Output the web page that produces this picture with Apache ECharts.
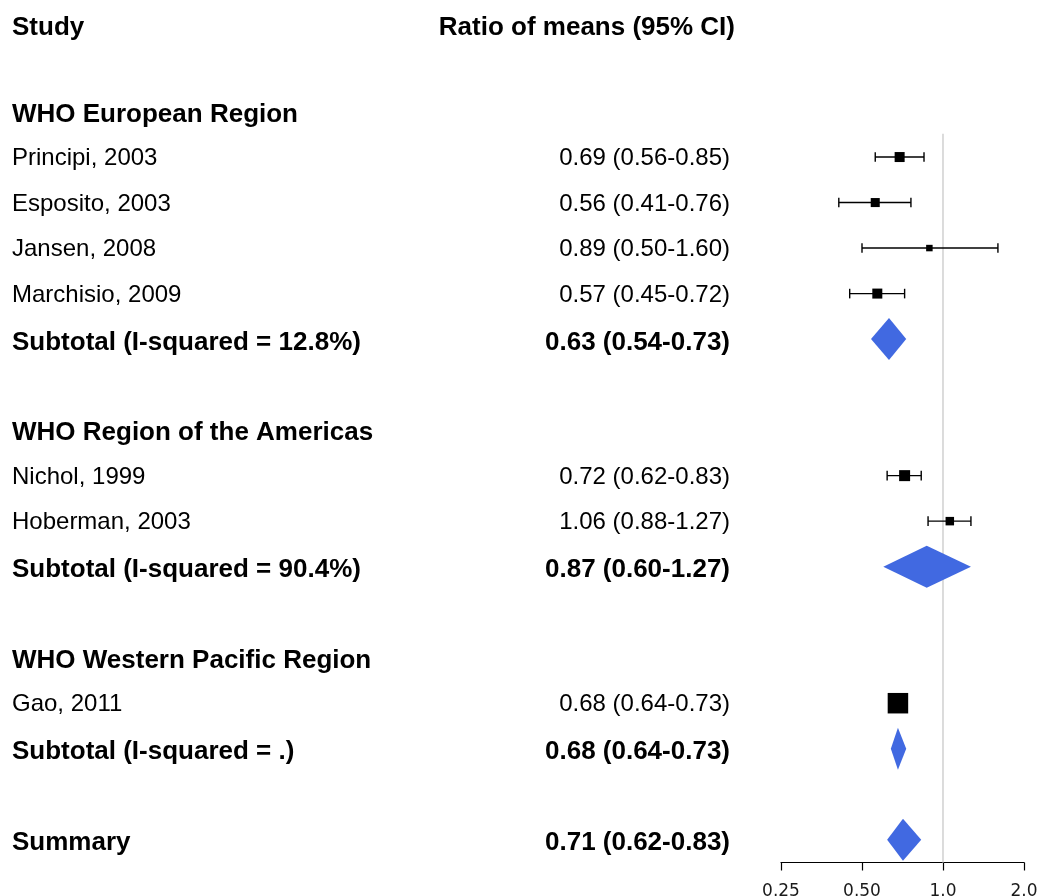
<!DOCTYPE html>
<html>
<head>
<meta charset="utf-8">
<title>Ratio of means forest plot</title>
<script src="https://cdn.jsdelivr.net/npm/echarts@6/dist/echarts.min.js"></script>
<style>
html, body { margin: 0; padding: 0; background: #fff; }
#chart { width: 1037px; height: 896px; }
</style>
</head>
<body>
<div id="chart"></div>
<script>
// groups + studies
var regionNames = ['WHO European Region', 'WHO Region of the Americas', 'WHO Western Pacific Region'];
var studyNames = ['Principi, 2003', 'Esposito, 2003', 'Jansen, 2008', 'Marchisio, 2009', 'Nichol, 1999', 'Hoberman, 2003', 'Gao, 2011'];
var studyRegion = [0, 0, 0, 0, 1, 1, 2];
var studyRatio = [0.69, 0.56, 0.89, 0.57, 0.72, 1.06, 0.68];
var studyLower = [0.56, 0.41, 0.50, 0.45, 0.62, 0.88, 0.64];
var studyUpper = [0.85, 0.76, 1.60, 0.72, 0.83, 1.27, 0.73];
// weights (%)
var studyWeight = [10.7, 8.7, 4.5, 10.7, 12.9, 7.7, 44.9];

var subtotalLabels = ['Subtotal (I-squared = 12.8%)', 'Subtotal (I-squared = 90.4%)', 'Subtotal (I-squared = .)'];
var subtotalRatio = [0.63, 0.87, 0.68];
var subtotalLower = [0.54, 0.60, 0.64];
var subtotalUpper = [0.73, 1.27, 0.73];

var summaryLabel = 'Summary';
var summaryRatio = [0.71];
var summaryLower = [0.62];
var summaryUpper = [0.83];

var headerLabels = ['Study', 'Ratio of means (95% CI)'];
var xTicks = [0.25, 0.5, 1, 2];
var xTickLabels = ['0.25', '0.50', '1.0', '2.0'];

function ciText(r, l, u) {
	return r.toFixed(2) + ' (' + l.toFixed(2) + '-' + u.toFixed(2) + ')';
}

// lay the rows out: one slot per line, blank slot between groups
var textRows = [];   // [slot, left text, right text, kind]
var boxData = [];    // [ratio, lower, upper, slot, weight]
var diamondData = []; // [ratio, lower, upper, slot]
textRows.push([0, headerLabels[0], headerLabels[1], 'header']);
var slot = 2;
regionNames.forEach(function(name, g) {
	textRows.push([slot, name, '', 'heading']);
	slot++;
	studyNames.forEach(function(s, i) {
		if (studyRegion[i] !== g) return;
		textRows.push([slot, s, ciText(studyRatio[i], studyLower[i], studyUpper[i]), 'study']);
		boxData.push([studyRatio[i], studyLower[i], studyUpper[i], slot, studyWeight[i]]);
		slot++;
	});
	textRows.push([slot, subtotalLabels[g], ciText(subtotalRatio[g], subtotalLower[g], subtotalUpper[g]), 'total']);
	diamondData.push([subtotalRatio[g], subtotalLower[g], subtotalUpper[g], slot]);
	slot += 2;
});
textRows.push([slot, summaryLabel, ciText(summaryRatio[0], summaryLower[0], summaryUpper[0]), 'total']);
diamondData.push([summaryRatio[0], summaryLower[0], summaryUpper[0], slot]);
var lastSlot = slot;

var FONT = 'Arial, "Liberation Sans", Helvetica, sans-serif';
// weight + size for left and right column
var textStyles = {
	header : { lw : 'bold', ls : 26, rw : 'bold', rs : 26, rightX : 735, dy : 7 },
	heading : { lw : 'bold', ls : 26, rw : 'bold', rs : 26, rightX : 730, dy : 3 },
	study : { lw : 'normal', ls : 24, rw : 'normal', rs : 24, rightX : 730, dy : 1.5 },
	total : { lw : 'bold', ls : 26, rw : 'bold', rs : 26, rightX : 730, dy : 3.5 }
};

function renderText(params, api) {
	var r = textRows[api.value(2)];
	var st = textStyles[r[3]];
	var y = api.coord([1, r[0]])[1] + st.dy;
	var kids = [ {
		type : 'text',
		x : 12,
		y : y,
		style : { text : r[1], fontFamily : FONT, fontSize : st.ls, fontWeight : st.lw, fill : '#000', align : 'left', verticalAlign : 'middle' }
	} ];
	if (r[2]) {
		kids.push({
			type : 'text',
			x : st.rightX,
			y : y,
			style : { text : r[2], fontFamily : FONT, fontSize : st.rs, fontWeight : st.rw, fill : '#000', align : 'right', verticalAlign : 'middle' }
		});
	}
	return { type : 'group', children : kids };
}

function renderBox(params, api) {
	var s = api.value(3);
	var p = api.coord([api.value(0), s]);
	var l = api.coord([api.value(1), s]);
	var u = api.coord([api.value(2), s]);
	var size = Math.sqrt(api.value(4)) * 3.06;
	var cap = 4.8;
	var line = { stroke : '#000', lineWidth : 1.4 };
	return {
		type : 'group',
		children : [
			{ type : 'line', shape : { x1 : l[0], y1 : p[1], x2 : u[0], y2 : p[1] }, style : line },
			{ type : 'line', shape : { x1 : l[0], y1 : p[1] - cap, x2 : l[0], y2 : p[1] + cap }, style : line },
			{ type : 'line', shape : { x1 : u[0], y1 : p[1] - cap, x2 : u[0], y2 : p[1] + cap }, style : line },
			{ type : 'rect', shape : { x : p[0] - size / 2, y : p[1] - size / 2, width : size, height : size }, style : { fill : '#000' } }
		]
	};
}

function renderDiamond(params, api) {
	var s = api.value(3);
	var p = api.coord([api.value(0), s]);
	var l = api.coord([api.value(1), s]);
	var u = api.coord([api.value(2), s]);
	var h = 21;
	return {
		type : 'polygon',
		shape : { points : [ [ l[0], p[1] ], [ p[0], p[1] - h ], [ u[0], p[1] ], [ p[0], p[1] + h ] ] },
		style : { fill : '#4169E1' }
	};
}

function renderRefLine(params, api) {
	var a = api.coord([api.value(0), api.value(1)]);
	var b = api.coord([api.value(0), api.value(2)]);
	return {
		type : 'line',
		shape : { x1 : a[0], y1 : a[1], x2 : b[0], y2 : b[1] },
		style : { stroke : '#d3d3d3', lineWidth : 1.6 }
	};
}

var chart = echarts.init(document.getElementById('chart'), null, { renderer : 'canvas' });
var option = {
	backgroundColor : '#fff',
	animation : false,
	grid : { left : 781, right : 13, top : 20.5, bottom : 33.5, containLabel : false, outerBoundsMode : 'none' },
	xAxis : {
		type : 'log',
		logBase : 2,
		position : 'bottom',
		min : xTicks[0],
		max : xTicks[xTicks.length - 1],
		splitLine : { show : false },
		axisLine : { onZero : false, lineStyle : { color : '#000', width : 1.2 } },
		axisTick : { length : 8, lineStyle : { color : '#000', width : 1.2 } },
		axisLabel : {
			margin : 21,
			fontFamily : 'DejaVu Sans',
			fontSize : 17,
			color : '#1a1a1a',
			hideOverlap : false,
			formatter : function(v) {
				for (var i = 0; i < xTicks.length; i++) {
					if (Math.abs(xTicks[i] - v) < 1e-6) return xTickLabels[i];
				}
				return '';
			}
		}
	},
	yAxis : {
		type : 'value',
		inverse : true,
		min : 0,
		max : lastSlot + 0.5,
		show : false
	},
	series : [
		{
			name : 'ref',
			type : 'custom',
			renderItem : renderRefLine,
			encode : { x : 0, y : [ 1, 2 ] },
			data : [ [ 1, 2.49, lastSlot + 0.5 ] ],
			z : 1
		},
		{
			name : 'studies',
			type : 'custom',
			renderItem : renderBox,
			encode : { x : [ 0, 1, 2 ], y : 3 },
			data : boxData,
			z : 3
		},
		{
			name : 'pooled',
			type : 'custom',
			renderItem : renderDiamond,
			encode : { x : [ 0, 1, 2 ], y : 3 },
			data : diamondData,
			z : 3
		},
		{
			name : 'labels',
			type : 'custom',
			renderItem : renderText,
			encode : { x : 0, y : 1 },
			data : textRows.map(function(r, i) {
				return [ 1, r[0], i ];
			}),
			z : 4
		}
	]
};
chart.setOption(option);
</script>
</body>
</html>
